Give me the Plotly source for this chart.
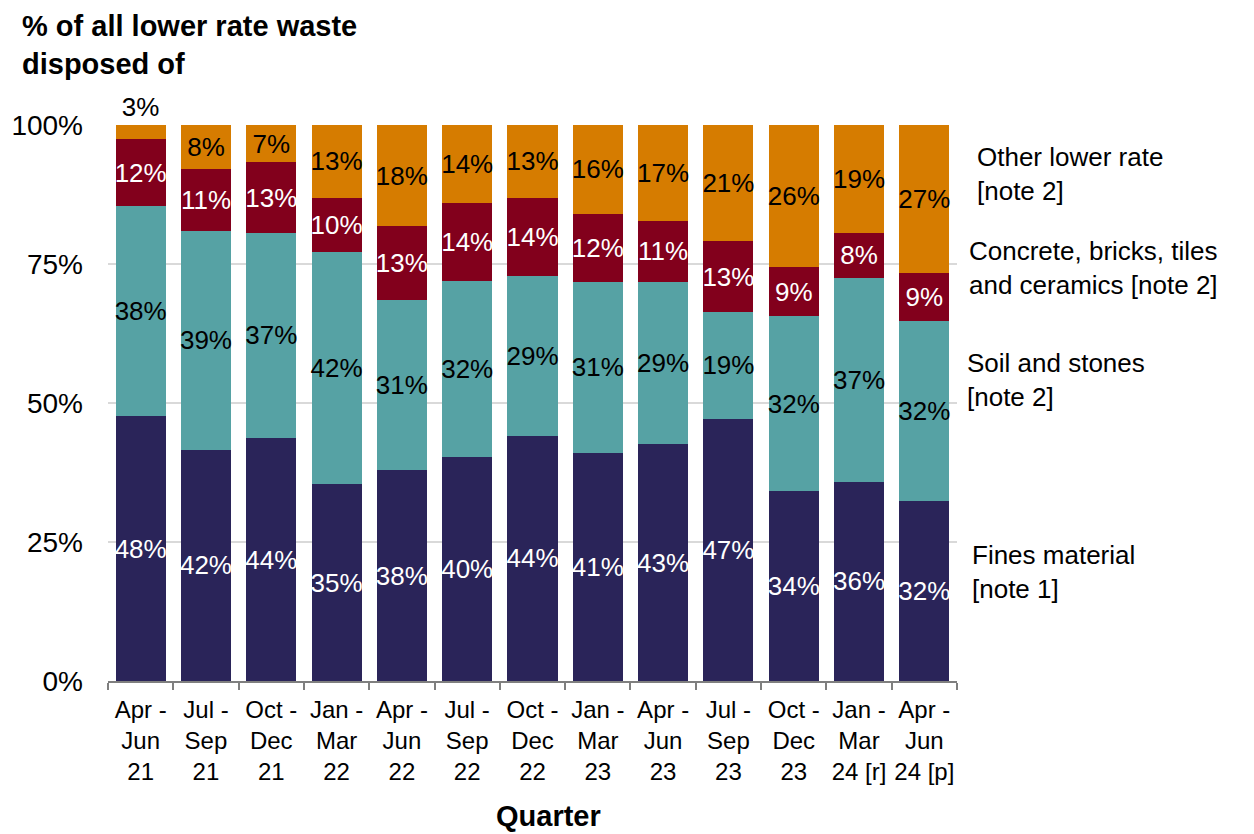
import plotly.graph_objects as go

quarters = ["Apr - Jun 21", "Jul - Sep 21", "Oct - Dec 21", "Jan - Mar 22", "Apr - Jun 22",
            "Jul - Sep 22", "Oct - Dec 22", "Jan - Mar 23", "Apr - Jun 23", "Jul - Sep 23",
            "Oct - Dec 23", "Jan - Mar 24 [r]", "Apr - Jun 24 [p]"]
tick_labels = ["Apr -<br>Jun<br>21", "Jul -<br>Sep<br>21", "Oct -<br>Dec<br>21", "Jan -<br>Mar<br>22",
               "Apr -<br>Jun<br>22", "Jul -<br>Sep<br>22", "Oct -<br>Dec<br>22", "Jan -<br>Mar<br>23",
               "Apr -<br>Jun<br>23", "Jul -<br>Sep<br>23", "Oct -<br>Dec<br>23", "Jan -<br>Mar<br>24 [r]",
               "Apr -<br>Jun<br>24 [p]"]
y_tickvals = [0, 25, 50, 75, 100]
y_ticktext = ["0%", "25%", "50%", "75%", "100%"]

fines = [47.6, 41.6, 43.7, 35.4, 37.9, 40.3, 44.1, 41.0, 42.6, 47.1, 34.1, 35.8, 32.4]
soil = [37.8, 39.4, 36.9, 41.8, 30.6, 31.6, 28.7, 30.8, 29.2, 19.3, 31.6, 36.7, 32.4]
concrete = [12.0, 11.0, 12.7, 9.7, 13.3, 14.0, 14.1, 12.2, 10.9, 12.7, 8.7, 8.1, 8.6]
other = [2.6, 8.0, 6.7, 13.1, 18.2, 14.1, 13.1, 16.0, 17.3, 20.9, 25.6, 19.4, 26.6]

series = [
    ("Fines material<br>[note 1]", fines, "#2A2459", "white", 19.6, 970),
    ("Soil and stones<br>[note 2]", soil, "#56A2A4", "black", 54.1, 965),
    ("Concrete, bricks, tiles<br>and ceramics [note 2]", concrete, "#82001C", "white", 74.3, 967),
    ("Other lower rate<br>[note 2]", other, "#D67C00", "black", 91.2, 975),
]

FONT = "Liberation Sans, Arial, sans-serif"
fig = go.Figure()
for name, vals, color, tcol, _, _ in series:
    if name.startswith("Other"):
        pos = ["outside" if v < 5 else "inside" for v in vals]
    else:
        pos = "inside"
    fig.add_trace(go.Bar(
        x=quarters, y=vals, name=name, marker=dict(color=color, line=dict(width=0)),
        texttemplate="%{y:.0f}%", textposition=pos, insidetextanchor="middle",
        textangle=0, constraintext="none", cliponaxis=False,
        insidetextfont=dict(color=tcol, size=26, family=FONT),
        outsidetextfont=dict(color="black", size=26, family=FONT),
        hoverinfo="skip", showlegend=False,
    ))

annotations = []
for name, vals, color, tcol, ypos, xl in series:
    annotations.append(dict(
        text=name, xref="paper", yref="y", x=(xl - 108) / 849, y=ypos,
        xanchor="left", yanchor="middle", align="left", showarrow=False,
        font=dict(size=26, color="black", family=FONT)))

annotations.append(dict(
    text="<b>% of all lower rate waste<br>disposed of</b>", xref="paper", yref="paper",
    x=(20 - 108) / 849, y=(681 - 8) / 556, xanchor="left", yanchor="top", align="left",
    showarrow=False, font=dict(size=29, color="black", family=FONT)))
annotations.append(dict(
    text="<b>Quarter</b>", xref="paper", yref="paper",
    x=(548 - 108) / 849, y=(681 - 816) / 556, xanchor="center", yanchor="middle",
    showarrow=False, font=dict(size=29, color="black", family=FONT)))

# page body has an 8px margin; offset the figure accordingly
fig.update_layout(
    barmode="stack", bargap=0.234,
    width=1246, height=826,
    margin=dict(l=100, r=297, t=117, b=153, autoexpand=False),
    paper_bgcolor="white", plot_bgcolor="white",
    font=dict(family=FONT, color="black"),
    annotations=annotations,
)
fig.update_xaxes(
    tickmode="array", tickvals=quarters, ticktext=tick_labels, tickangle=0,
    tickfont=dict(size=24, color="black", family=FONT),
    showline=True, linecolor="#7F7F7F", linewidth=2,
    ticks="outside", tickson="boundaries", ticklen=7, tickwidth=2, tickcolor="#7F7F7F",
    showgrid=False, ticklabelstandoff=6,
)
fig.update_yaxes(
    range=[0, 100], tickmode="array", tickvals=y_tickvals, ticktext=y_ticktext,
    tickfont=dict(size=28, color="black", family=FONT),
    showgrid=True, gridcolor="#D9D9D9", gridwidth=2,
    showline=False, zeroline=False, ticks="", ticklabelstandoff=24,
)

fig.write_html("out.html")
